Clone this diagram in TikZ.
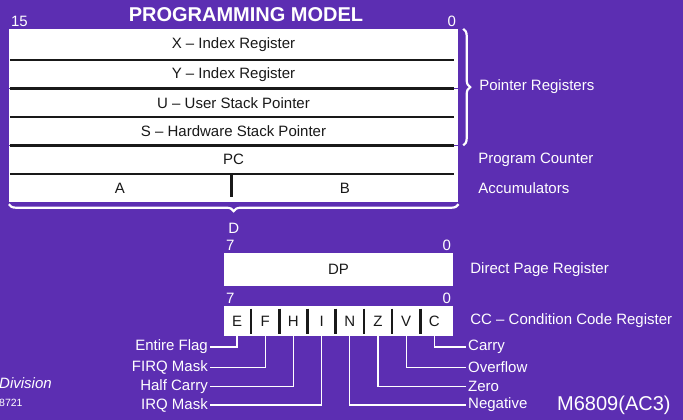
\documentclass[tikz,border=0pt]{standalone}
\usepackage{fontspec}
\setmainfont{Liberation Sans}
\usetikzlibrary{positioning, decorations.pathreplacing}
\definecolor{plum}{RGB}{92,46,178}
\definecolor{ink}{RGB}{25,25,25}

\begin{document}
\begin{tikzpicture}[
    x=1pt, y=-1pt,
    every node/.style={font=\fontsize{15}{17}\selectfont, text=white, inner sep=2pt},
    reg/.style={rectangle, fill=white, text=ink, minimum width=449pt, minimum height=#1, inner sep=0pt},
    reg/.default=28pt,
    half/.style={reg, minimum width=#1},
    bitbox/.style={rectangle, fill=white, text=ink, minimum width=229pt, minimum height=#1, inner sep=0pt},
    bit/.style={text=ink, inner sep=0pt},
    sep/.style={draw=ink, line width=2.6pt},
    lead/.style={draw=white, line width=1.3pt},
    brc/.style={decorate, decoration={brace, amplitude=7pt}, draw=white, line width=2.2pt},
]
    \fill[plum] (0,0) rectangle (683,420);
    \useasboundingbox (0,0) rectangle (683,420);

    \node[font=\fontsize{20}{22}\selectfont\bfseries] (title) at (246,15) {PROGRAMMING MODEL};

    % 16-bit registers
    \node[reg=31pt] (xr) at (233.5,44.5) {X -- Index Register};
    \node[reg, below=0pt of xr] (yr) {Y -- Index Register};
    \node[reg, below=0pt of yr] (ur) {U -- User Stack Pointer};
    \node[reg, below=0pt of ur] (sr) {S -- Hardware Stack Pointer};
    \node[reg, below=0pt of sr] (pc) {PC};
    \node[half=222pt, anchor=north west] (acca) at (pc.south west) {A};
    \node[half=227pt, right=0pt of acca] (accb) {B};
    \node[anchor=south west] (hi) at (xr.north west) {15};
    \node[anchor=south east] (lo) at (xr.north east) {0};

    \foreach \r in {xr,yr,ur,sr,pc}
        \draw[sep] ([xshift=1pt]\r.south west) -- ([xshift=-4pt]\r.south east);
    \draw[sep] (acca.north east) -- ([yshift=5pt]acca.south east);

    % braces
    \draw[brc] ([xshift=5pt]xr.north east) -- ([xshift=5pt]sr.south east)
        node[midway, right=13pt] (ptr) {Pointer Registers};
    \node[anchor=west] (pcl) at (ptr.west |- pc) {Program Counter};
    \node[anchor=west] (accl) at (ptr.west |- accb) {Accumulators};
    \draw[brc] ([yshift=-2pt]accb.south east) -- ([yshift=-2pt]acca.south west)
        node[midway, below=16pt] (dl) {D};

    % 8-bit registers
    \node[bitbox=33pt] (dp) at (338.5,269.5) {DP};
    \node[anchor=south west] (dphi) at (dp.north west) {7};
    \node[anchor=south east] (dplo) at (dp.north east) {0};
    \node[right=15pt of dp] (dpl) {Direct Page Register};

    \node[bitbox=30pt] (cc) at (338.5,321) {};
    \node[anchor=south west] (cchi) at (cc.north west) {7};
    \node[anchor=south east] (cclo) at (cc.north east) {0};
    \node[right=15pt of cc] (ccl) {CC -- Condition Code Register};

    \foreach \b [count=\i from 0] in {E,F,H,I,N,Z,V,C}
        \node[bit] (b\b) at ({237+28.2*\i}, 321) {\b};
    \foreach \i in {1,...,7}
        \draw[sep] ({222.9+28.2*\i}, 308.5) -- ++(0,25);

    % flag names
    \node[anchor=east] (eflag) at (210,347) {Entire Flag};
    \node[anchor=east] (firq) at (210,367.5) {FIRQ Mask};
    \node[anchor=east] (hcar) at (210,386.5) {Half Carry};
    \node[anchor=east] (irq) at (210,405) {IRQ Mask};
    \node[anchor=west] (carry) at (466,347) {Carry};
    \node[anchor=west] (ovf) at (466,367.5) {Overflow};
    \node[anchor=west] (zero) at (466,386.5) {Zero};
    \node[anchor=west] (neg) at (466,405) {Negative};

    \draw[lead] (bE |- cc.south) |- (eflag.east);
    \draw[lead] (bF |- cc.south) |- (firq.east);
    \draw[lead] (bH |- cc.south) |- (hcar.east);
    \draw[lead] (bI |- cc.south) |- (irq.east);
    \draw[lead] (bN |- cc.south) |- (neg.west);
    \draw[lead] (bZ |- cc.south) |- (zero.west);
    \draw[lead] (bV |- cc.south) |- (ovf.west);
    \draw[lead] (bC |- cc.south) |- (carry.west);

    \node[anchor=west, font=\fontsize{15}{17}\selectfont\itshape] (div) at (-3,383) {Division};
    \node[anchor=west, font=\fontsize{10.5}{12}\selectfont] (docno) at (-3,403) {8721};
    \node[anchor=west, font=\fontsize{20}{22}\selectfont] (part) at (555,405) {M6809(AC3)};
\end{tikzpicture}
\end{document}
